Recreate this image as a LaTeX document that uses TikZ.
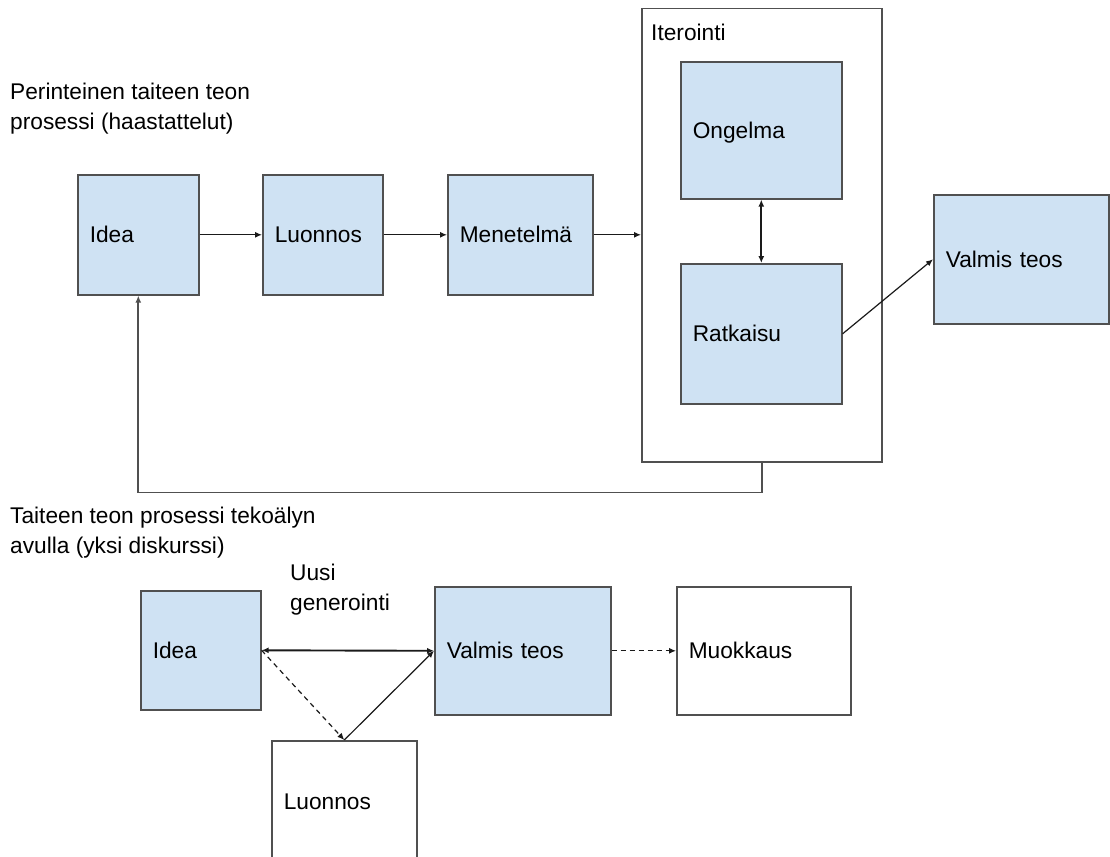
\documentclass[tikz,border=0pt]{standalone}
\usepackage{fontspec}
\setmainfont{Liberation Sans}
\usetikzlibrary{arrows.meta}
\definecolor{boxblue}{HTML}{CFE2F3}
\definecolor{edgecol}{HTML}{505050}
\definecolor{ink}{HTML}{1A1A1A}
\begin{document}
\begin{tikzpicture}[x=1pt,y=-1pt,
  font=\fontsize{22.7}{29.5}\selectfont,
  box/.style={draw=edgecol, line width=1.6pt, fill=boxblue, anchor=north west, align=left,
    inner xsep=12pt, inner ysep=0pt, text height=16pt, text depth=0pt},
  plainbox/.style={box, fill=white},
  framebox/.style={draw=edgecol, line width=1.5pt, anchor=north west, inner sep=0pt},
  lbl/.style={anchor=base west, inner sep=0pt, align=left},
  arr/.style={draw=ink, line width=1.2pt, -{Latex[length=7pt,width=6pt]}},
  darr/.style={draw=ink, line width=1.9pt, {Latex[length=7pt,width=6pt]}-{Latex[length=7pt,width=6pt]}},
  dasharr/.style={arr, dash pattern=on 5pt off 4pt},
  fbarr/.style={draw=edgecol, line width=1.8pt, -{Latex[length=7pt,width=6pt]}},
]
\useasboundingbox[fill=white] (0,0) rectangle (1110,856);

% titles (anchor is the baseline of the last line)
\node[lbl] (t1) at (10,129) {Perinteinen taiteen teon\\prosessi (haastattelut)};
\node[lbl] (t2) at (10,553) {Taiteen teon prosessi tekoälyn\\avulla (yksi diskurssi)};

% top row
\node[framebox, minimum width=240pt, minimum height=453pt] (iter) at (641,8) {};
\node[lbl] (iterlbl) at (651,41) {Iterointi};
\node[box, text width=97pt, minimum height=120pt] (idea1) at (77,174) {Idea};
\node[box, text width=96pt, minimum height=120pt] (luon1) at (262,174) {Luonnos};
\node[box, text width=121pt, minimum height=120pt] (mene) at (447,174) {Menetelmä};
\node[box, text width=137pt, minimum height=137pt] (onge) at (680,61) {Ongelma};
\node[box, text width=137pt, minimum height=140pt] (ratk) at (680,263) {Ratkaisu};
\node[box, text width=151pt, minimum height=129pt] (valm1) at (933,194) {Valmis teos};

\draw[arr] (idea1.east) -- (luon1.west);
\draw[arr] (luon1.east) -- (mene.west);
\draw[arr] (mene.east) -- (mene.east -| iter.west);
\draw[darr] (onge.south) -- (ratk.north);
\draw[arr] (ratk.east) -- (valm1.west);
\draw[fbarr] (iter.south) -- ++(0,30) -| (idea1.south);

% bottom row
\node[box, text width=96pt, minimum height=119pt] (idea2) at (140,590) {Idea};
\node[box, text width=152pt, minimum height=128pt] (valm2) at (434,586) {Valmis teos};
\node[plainbox, text width=150pt, minimum height=128pt] (muok) at (676,586) {Muokkaus};
\node[plainbox, text width=121pt, minimum height=122pt] (luon2) at (271,740) {Luonnos};
\node[lbl] (uusi) at (290,610) {Uusi\\generointi};

\draw[darr] (idea2.east) -- (valm2.west);
\draw[dasharr] (idea2.east) -- (luon2.north);
\draw[arr] (luon2.north) -- (valm2.west);
\draw[dasharr] (valm2.east) -- (muok.west);
\end{tikzpicture}
\end{document}
